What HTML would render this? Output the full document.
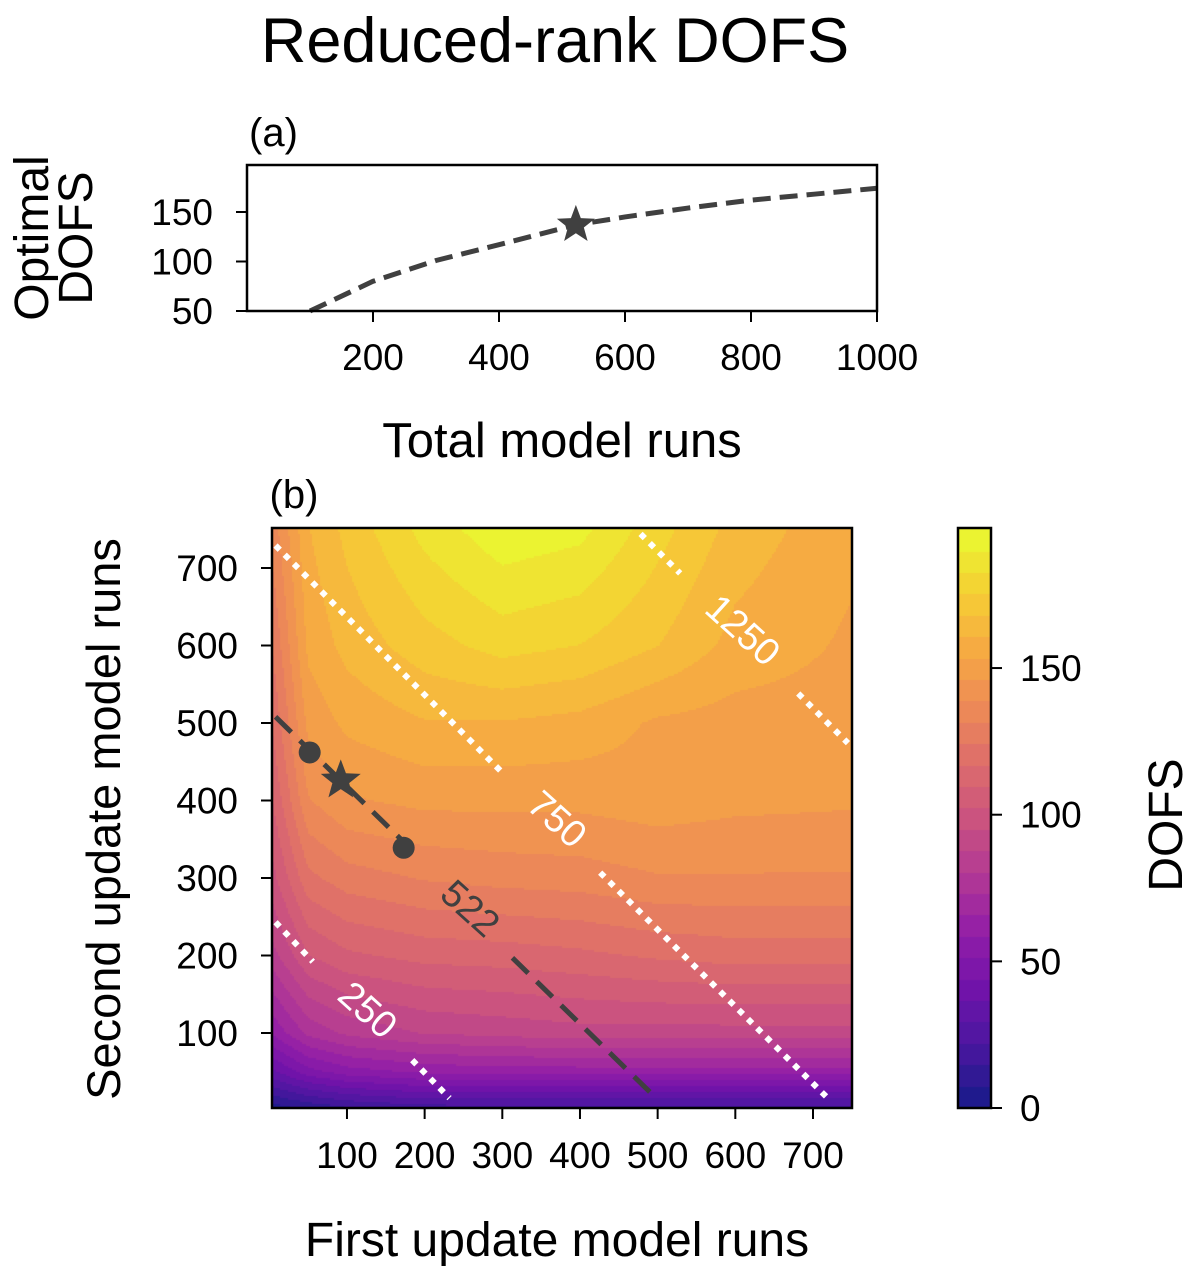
<!DOCTYPE html>
<html><head><meta charset="utf-8"><style>
body{margin:0;background:#fff;width:1195px;height:1276px;position:relative;overflow:hidden;font-family:"Liberation Sans",sans-serif}
canvas{position:absolute}
svg{position:absolute;left:0;top:0}
</style></head><body>
<canvas id="cv" width="580" height="580" style="left:272px;top:528px"></canvas>
<canvas id="cb" width="33" height="580" style="left:958px;top:528px"></canvas>
<svg id="s" width="1195" height="1276" font-family="Liberation Sans, sans-serif">
<text x="555" y="62" font-size="63" text-anchor="middle">Reduced-rank DOFS</text>
<text x="249" y="146" font-size="40">(a)</text>
<text x="294" y="508" font-size="40" text-anchor="middle">(b)</text>
<g transform="translate(48,238) rotate(-90)">
<text x="0" y="0" font-size="48" text-anchor="middle">Optimal</text>
<text x="0" y="44" font-size="48" text-anchor="middle">DOFS</text></g>
<text x="562" y="457" font-size="49" text-anchor="middle">Total model runs</text>
<text x="557" y="1256" font-size="48" text-anchor="middle">First update model runs</text>
<text transform="translate(120,819) rotate(-90)" font-size="47" text-anchor="middle">Second update model runs</text>
<text transform="translate(1182,825) rotate(-90)" font-size="48" text-anchor="middle">DOFS</text>
<g id="ga"></g><g id="gb"></g>
</svg>
<script>
// Panel (a) data
const aRuns=[100,200,300,400,522,600,700,800,900,1000];
const aDofs=[50,80,101,117,137,145,154,162,168,174];
const aStar=[522,137];
const aXTicks=[200,400,600,800,1000];
const aYTicks=[50,100,150];
// Panel (b) data grid
const bX=[5,50,100,200,300,400,500,600,750];
const bY=[5,50,100,200,300,400,500,600,750];
const row0=[5,10,15,20,20,20,20,20,20];
const row1=[35,48,55,60,62,62,62,62,62];
const row2=[60,75,82,88,90,92,92,92,92];
const row3=[85,102,108,112,113,115,118,120,120];
const row4=[100,122,128,132,134,135,138,138,138];
const row5=[110,138,145,148,148,148,150,148,147];
const row6=[118,148,155,160,160,158,152,150,150];
const row7=[125,155,163,172,178,175,168,158,152];
const row8=[135,160,170,185,195,192,178,165,155];
const bZ=[row0,row1,row2,row3,row4,row5,row6,row7,row8];
// contour lines of total runs: [x,y] endpoints and gap
const line250=[[8,243],[56,192],[184,65],[232,16]];
const line750=[[8,729],[303,433],[426,307],[721,14]];
const line1250=[[478,744],[529,693],[681,538],[745,474]];
const line522=[[8,508],[193,327],[313,197],[498,16]];
const labels=[[250,126,129],[750,370,375],[1250,609,619],[522,258,260]];
const bDots=[[52,462],[173,339]];
const bStar=[92,426];
const bTicks=[100,200,300,400,500,600,700];
const cbTicks=[0,50,100,150];
const NS="http://www.w3.org/2000/svg";
function mk(p,t,a){const e=document.createElementNS(NS,t);for(const k in a)e.setAttribute(k,a[k]);p.appendChild(e);return e;}
const ga=document.getElementById('ga'),gb=document.getElementById('gb');
const axA=v=>247+v*0.63, ayA=v=>311-(v-50)*0.99;
let pts=aRuns.map((r,i)=>axA(r)+','+ayA(aDofs[i])).join(' ');
let l=mk(ga,'polyline',{points:pts,fill:'none',stroke:'#404040','stroke-width':5,'stroke-dasharray':'18 9','stroke-linejoin':'round'});

function star(g,cx,cy,R){let p=[];for(let i=0;i<10;i++){const r=i%2?R*0.42:R,a=-Math.PI/2+i*Math.PI/5;p.push((cx+r*Math.cos(a))+','+(cy+r*Math.sin(a)));}return mk(g,'polygon',{points:p.join(' '),fill:'#404040'});}
let st=star(ga,axA(aStar[0]),ayA(aStar[1]),20);

let fa=mk(ga,'rect',{x:247,y:165,width:630,height:146,fill:'none',stroke:'#000','stroke-width':2.5});

aXTicks.forEach(t=>{mk(ga,'line',{x1:axA(t),x2:axA(t),y1:311,y2:322,stroke:'#000','stroke-width':2});
 let tx=mk(ga,'text',{x:axA(t),y:370,'font-size':37,'text-anchor':'middle'});tx.textContent=t;
 });
aYTicks.forEach(t=>{mk(ga,'line',{x1:236,x2:247,y1:ayA(t),y2:ayA(t),stroke:'#000','stroke-width':2});
 let tx=mk(ga,'text',{x:213,y:ayA(t)+13,'font-size':37,'text-anchor':'end'});tx.textContent=t;
 });
// panel b
const ax=v=>269.3+v*0.7767, ay=v=>1110.5-v*0.775;
const cmap=[[13,8,135],[65,4,157],[106,0,168],[143,13,164],[177,42,144],[204,71,120],[225,100,98],[242,132,75],[252,166,54],[252,206,37],[240,249,33]];
function col(t){t=Math.max(0,Math.min(1,t))*10;const i=Math.min(9,Math.floor(t)),f=t-i;const a=cmap[i],b=cmap[i+1];
 return 'rgb('+a.map((v,k)=>Math.round((v+(b[k]-v)*f)*0.9+190*0.1)).join(',')+')';}
const VMAX=197,NL=27,STEP=VMAX/NL;
function lev(z){const b=Math.max(0,Math.min(NL-1,Math.floor(z/STEP)));return col(b/(NL-1));}
function idx(arr,v){for(let i=0;i<arr.length-1;i++)if(v<=arr[i+1])return i;return arr.length-2;}
function val(x,y){const i=idx(bX,x),j=idx(bY,y);const fx=Math.max(0,Math.min(1,(x-bX[i])/(bX[i+1]-bX[i]))),fy=Math.max(0,Math.min(1,(y-bY[j])/(bY[j+1]-bY[j])));
 return bZ[j][i]*(1-fx)*(1-fy)+bZ[j][i+1]*fx*(1-fy)+bZ[j+1][i]*(1-fx)*fy+bZ[j+1][i+1]*fx*fy;}
const cx=document.getElementById('cv').getContext('2d');
for(let px=0;px<580;px+=2)for(let py=0;py<580;py+=2){const x=(px+272+1-269.3)/0.7767,y=(1110.5-(py+528+1))/0.775;cx.fillStyle=lev(val(x,y));cx.fillRect(px,py,2,2);}
const cb=document.getElementById('cb').getContext('2d');
for(let py=0;py<580;py++){const v=(1108-(py+528+0.5))/2.933;cb.fillStyle=lev(v);cb.fillRect(0,py,33,1);}
mk(gb,'defs',{}).innerHTML='<clipPath id="cp"><rect x="272" y="528" width="580" height="580"/></clipPath>';
const gl=mk(gb,'g',{'clip-path':'url(#cp)'});
function seg(arr,name,stroke,dash,w){[[arr[0],arr[1]],[arr[2],arr[3]]].forEach(s=>{
 let e=mk(gl,'line',{x1:ax(s[0][0]),y1:ay(s[0][1]),x2:ax(s[1][0]),y2:ay(s[1][1]),stroke:stroke,'stroke-width':w,'stroke-dasharray':dash});
 });}
seg(line250,'total-runs-line-250','#fff','6 7',6);
seg(line750,'total-runs-line-750','#fff','6 7',6);
seg(line1250,'total-runs-line-1250','#fff','6 7',6);
seg(line522,'optimal-total-line-522','#404040','22 12',5);
labels.forEach(L=>{let t=mk(gb,'text',{transform:'translate('+ax(L[1])+','+ay(L[2])+') rotate(42)','font-size':38,'text-anchor':'middle','dominant-baseline':'central',fill:L[0]===522?'#404040':'#fff'});t.textContent=L[0];
 });
bDots.forEach(d=>{let c=mk(gb,'circle',{cx:ax(d[0]),cy:ay(d[1]),r:11,fill:'#404040'});});
let s2=star(gb,ax(bStar[0]),ay(bStar[1]),21);
let fb=mk(gb,'rect',{x:272,y:528,width:580,height:580,fill:'none',stroke:'#000','stroke-width':2.5});

bTicks.forEach(t=>{mk(gb,'line',{x1:ax(t),x2:ax(t),y1:1108,y2:1119,stroke:'#000','stroke-width':2});
 let tx=mk(gb,'text',{x:ax(t),y:1168,'font-size':37,'text-anchor':'middle'});tx.textContent=t;
 
 mk(gb,'line',{x1:261,x2:272,y1:ay(t),y2:ay(t),stroke:'#000','stroke-width':2});
 let ty=mk(gb,'text',{x:238,y:ay(t)+13,'font-size':37,'text-anchor':'end'});ty.textContent=t;
 });
mk(gb,'rect',{x:958,y:528,width:33,height:580,fill:'none',stroke:'#000','stroke-width':2.5});
cbTicks.forEach(t=>{const y=1108-t*2.933;mk(gb,'line',{x1:991,x2:1002,y1:y,y2:y,stroke:'#000','stroke-width':2});
 let tx=mk(gb,'text',{x:1020,y:y+13,'font-size':37});tx.textContent=t;
 });
</script>
</body></html>
